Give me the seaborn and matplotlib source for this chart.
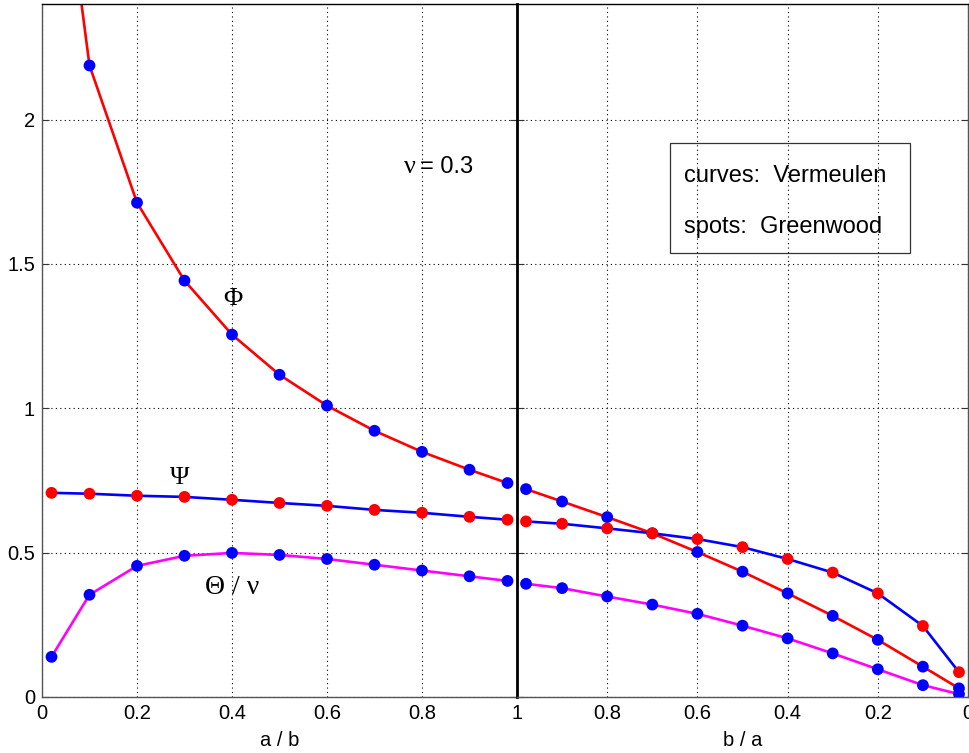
import numpy as np
import pandas as pd
import seaborn as sns
import matplotlib.pyplot as plt
from matplotlib.patches import Rectangle

# a/b on the left panel, b/a on the right panel
ratio = [0.02, 0.1, 0.2, 0.3, 0.4, 0.5, 0.6, 0.7, 0.8, 0.9, 0.98]

# left panel (x = a/b)
phi_left = [3.2, 2.187, 1.712, 1.442, 1.255, 1.116, 1.009, 0.922, 0.849, 0.787, 0.741]
psi_left = [0.707, 0.704, 0.697, 0.693, 0.683, 0.672, 0.662, 0.648, 0.638, 0.624, 0.614]
theta_left = [0.139, 0.354, 0.454, 0.489, 0.499, 0.492, 0.478, 0.458, 0.438, 0.418, 0.402]

# right panel (x = b/a)
phi_right = [0.030, 0.105, 0.198, 0.281, 0.359, 0.434, 0.502, 0.567, 0.623, 0.677, 0.720]
psi_right = [0.086, 0.246, 0.359, 0.431, 0.478, 0.519, 0.547, 0.567, 0.584, 0.600, 0.608]
theta_right = [0.010, 0.041, 0.096, 0.151, 0.203, 0.247, 0.288, 0.320, 0.348, 0.377, 0.392]

RED = '#ff0000'
BLUE = '#0000ff'
MAG = '#ff00ff'


def draw_panel(ax, phi, psi, theta):
    df = pd.DataFrame({'x': ratio, 'phi': phi, 'psi': psi, 'theta': theta})
    # curves (Vermeulen)
    sns.lineplot(data=df, x='x', y='phi', ax=ax, color=RED, lw=1.9, sort=False)
    sns.lineplot(data=df, x='x', y='psi', ax=ax, color=BLUE, lw=1.9, sort=False)
    sns.lineplot(data=df, x='x', y='theta', ax=ax, color=MAG, lw=1.9, sort=False)
    # spots (Greenwood)
    kw = dict(s=72, edgecolor='none', zorder=5)
    sns.scatterplot(data=df, x='x', y='phi', ax=ax, color=BLUE, **kw)
    sns.scatterplot(data=df, x='x', y='psi', ax=ax, color=RED, **kw)
    sns.scatterplot(data=df, x='x', y='theta', ax=ax, color=BLUE, **kw)

    ax.set_ylim(0, 2.4)
    ax.set_yticks([0, 0.5, 1, 1.5, 2])
    ax.grid(True, color='black', linestyle=(0, (1, 3)), linewidth=0.8)
    ax.tick_params(direction='in', length=5, top=False, right=True, left=True,
                   labelsize=14.5, color='#333333', labelcolor='black', pad=5)
    for s in ax.spines.values():
        s.set_color('#555555')
        s.set_linewidth(1.0)
    ax.spines['top'].set_color('black')


sns.set_style('white')
plt.rcParams['font.family'] = ['Liberation Sans', 'DejaVu Sans']
plt.rcParams['text.color'] = 'black'

fig = plt.figure(figsize=(9.70, 7.53), dpi=100)
W, H = 970.0, 753.0
ax1 = fig.add_axes([42 / W, 56 / H, (517 - 42) / W, (749 - 56) / H])
ax2 = fig.add_axes([517 / W, 56 / H, (968 - 517) / W, (749 - 56) / H])

draw_panel(ax1, phi_left, psi_left, theta_left)
draw_panel(ax2, phi_right, psi_right, theta_right)

ax1.set_xlim(0, 1)
ax1.set_xticks([0, 0.2, 0.4, 0.6, 0.8, 1.0])
ax1.set_xticklabels(['0', '0.2', '0.4', '0.6', '0.8', ''])
ax1.set_yticklabels(['0', '0.5', '1', '1.5', '2'])
ax1.set_xlabel('a / b', fontsize=14.5, labelpad=6, color='black')
ax1.set_ylabel('')

ax2.set_xlim(1, 0)
ax2.set_xticks([1.0, 0.8, 0.6, 0.4, 0.2, 0])
ax2.set_xticklabels(['1', '0.8', '0.6', '0.4', '0.2', '0'])
ax2.set_yticklabels([])
ax2.set_xlabel('b / a', fontsize=14.5, labelpad=6, color='black')
ax2.set_ylabel('')
ax2.spines['left'].set_color('black')
ax2.spines['left'].set_linewidth(2.0)

# curve labels
serif = ['Liberation Serif', 'DejaVu Serif']
ax1.text(0.402, 1.38, '\u03a6', fontsize=19, family=serif, ha='center', va='center')
ax1.text(0.29, 0.76, '\u03a8', fontsize=19, family=serif, ha='center', va='center')
ax1.text(0.40, 0.38, '\u0398 / \u03bd', fontsize=20, family=serif, ha='center', va='center')
ax1.text(0.775, 1.835, '\u03bd', fontsize=19, family=serif, ha='center', va='center')
ax1.text(0.795, 1.835, '= 0.3', fontsize=17, ha='left', va='center')

# legend box
ax2.add_patch(Rectangle((0.661, 1.539), 0.129 - 0.661, 1.920 - 1.539, fill=False,
                        edgecolor='#333333', lw=0.9, zorder=6))
ax2.text(0.630, 1.806, 'curves:  Vermeulen', fontsize=17, ha='left', va='center')
ax2.text(0.630, 1.626, 'spots:  Greenwood', fontsize=17, ha='left', va='center')

fig.savefig('out.png', dpi=100)
